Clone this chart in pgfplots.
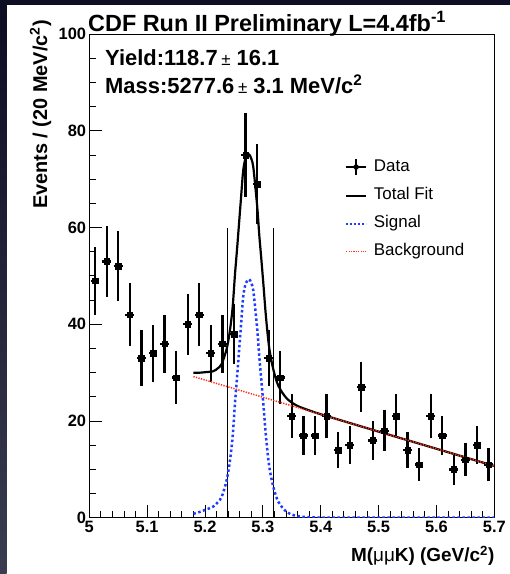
\documentclass[border=0pt]{standalone}
\usepackage{pgfplots}
\pgfplotsset{compat=1.18}
\usepackage{pgfplotstable}
\usepackage{fontspec}
\setmainfont{Liberation Sans}
\definecolor{darktop}{RGB}{12,12,34}
\definecolor{darkbot}{RGB}{58,60,80}
\definecolor{darkstrip}{RGB}{14,14,36}
\definecolor{sigblue}{RGB}{30,60,255}
\definecolor{bkgred}{RGB}{255,50,25}

\pgfplotstableread{
x y ex ey
5.01 49 0.0075 7.00
5.03 53 0.0075 7.28
5.05 52 0.0075 7.21
5.07 42 0.0075 6.48
5.09 33 0.0075 5.74
5.11 34 0.0075 5.83
5.13 36 0.0075 6.00
5.15 29 0.0075 5.39
5.17 40 0.0075 6.32
5.19 42 0.0075 6.48
5.21 34 0.0075 5.83
5.23 36 0.0075 6.00
5.25 38 0.0075 6.16
5.27 75 0.0075 8.66
5.29 69 0.0075 8.31
5.31 33 0.0075 5.74
5.33 29 0.0075 5.39
5.35 21 0.0075 4.58
5.37 17 0.0075 4.12
5.39 17 0.0075 4.12
5.41 21 0.0075 4.58
5.43 14 0.0075 3.74
5.45 15 0.0075 3.87
5.47 27 0.0075 5.20
5.49 16 0.0075 4.00
5.51 18 0.0075 4.24
5.53 21 0.0075 4.58
5.55 14 0.0075 3.74
5.57 11 0.0075 3.32
5.59 21 0.0075 4.58
5.61 17 0.0075 4.12
5.63 10 0.0075 3.16
5.65 12 0.0075 3.46
5.67 15 0.0075 3.87
5.69 11 0.0075 3.32
}\datatable

\pgfplotstableread{
x y
5.180 0.8
5.191 1.2
5.200 1.6
5.2143 2.3
5.222 3.2
5.2288 4.3
5.2375 7.8
5.2432 11.9
5.2478 16.8
5.2518 23.7
5.2558 29.7
5.262 39.5
5.266 45.7
5.2705 48.5
5.2765 49.3
5.2820 47.9
5.2847 45.7
5.2904 38.8
5.2938 33.3
5.2968 29.2
5.3007 23.7
5.3054 16.8
5.311 10.6
5.318 6.4
5.3267 3.3
5.341 1.2
5.3585 0.35
5.380 0.1
5.400 0.03
5.450 0
5.550 0
5.700 0
}\sigtable

\pgfplotstableread{
x y
5.180 30.0
5.191 30.0
5.200 30.1
5.2143 30.3
5.222 30.9
5.2288 31.8
5.2375 34.95
5.2432 38.85
5.2478 43.6
5.2518 50.35
5.2558 56.2
5.262 65.8
5.266 71.8
5.2705 74.5
5.2765 75.1
5.2820 73.5
5.2847 71.2
5.2904 64.1
5.2938 58.45
5.2968 54.25
5.3007 48.6
5.3054 41.5
5.311 35.1
5.318 30.7
5.3267 27.3
5.341 24.7
5.3585 23.2
5.380 22.2
5.400 21.4
5.450 19.6
5.500 17.81
5.600 14.26
5.700 10.70
}\tottable

\begin{document}
\begin{tikzpicture}
\path[use as bounding box] (0bp,0bp) rectangle (510bp,574bp);
\fill[white] (0bp,0bp) rectangle (510bp,574bp);
\shade[top color=darktop, bottom color=darkbot] (0bp,0bp) rectangle (6.5bp,574bp);
\fill[darkstrip] (0bp,569bp) rectangle (510bp,574bp);
\begin{axis}[
  at={(89.3bp,56.3bp)}, anchor=south west, scale only axis,
  width=405bp, height=483.4bp,
  xmin=5, xmax=5.7, ymin=0, ymax=100,
  xtick={5,5.1,5.2,5.3,5.4,5.5,5.6,5.7},
  xticklabels={5,5.1,5.2,5.3,5.4,5.5,5.6,5.7},
  ytick={0,20,40,60,80,100},
  yticklabels={0,20,40,60,80,100},
  minor x tick num=4, minor y tick num=3,
  tick align=inside, xtick pos=left, ytick pos=left,
  major tick length=13bp, minor tick length=6.5bp,
  tick style={black, line width=1bp},
  axis line style={line width=1.3bp},
  tick label style={font=\bfseries\fontsize{16.5}{16.5}\selectfont},
  /pgf/number format/assume math mode=true,
  xticklabel style={inner sep=3bp},
  yticklabel style={inner sep=3bp},
  legend cell align=left,
  legend style={at={(0.6314,0.744)}, anchor=north west, draw=none, fill=none,
    inner sep=0pt, outer sep=0pt, row sep=11.8bp, column sep=6.7bp,
    font=\fontsize{17}{17}\selectfont,
    nodes={inner sep=0pt, text height=12bp, text depth=4bp}},
]
\addplot[black, line width=1bp, forget plot] coordinates {(5.2385,0) (5.2385,60)};
\addplot[black, line width=1bp, forget plot] coordinates {(5.319,0) (5.319,60)};
\addplot[only marks, mark=square*, mark size=2.8bp, black, forget plot,
  error bars/.cd, x dir=both, x explicit, y dir=both, y explicit, error mark=none,
  error bar style={line width=2.3bp}]
  table[x=x, y=y, x error=ex, y error=ey] {\datatable};
\addplot[black, line width=2.2bp, smooth, forget plot] table[x=x,y=y] {\tottable};
\addplot[sigblue, line width=2.5bp, dash pattern=on 2.5bp off 2.5bp, smooth, forget plot] table[x=x,y=y] {\sigtable};
\addplot[bkgred, line width=1.5bp, dash pattern=on 1.3bp off 1.3bp, forget plot] coordinates {(5.18,29.2) (5.7,10.7)};

\addlegendimage{legend image code/.code={
  \draw[black, line width=2bp] (0bp,0bp) -- (20bp,0bp);
  \draw[black, line width=2bp] (10bp,-8bp) -- (10bp,8bp);
  \fill[black] (10bp,0bp) circle (2.5bp);}}
\addlegendentry{Data}
\addlegendimage{legend image code/.code={
  \draw[black, line width=2.2bp] (0bp,0bp) -- (20bp,0bp);}}
\addlegendentry{Total Fit}
\addlegendimage{legend image code/.code={
  \draw[sigblue, line width=2bp, dash pattern=on 2bp off 2bp] (0bp,0bp) -- (20bp,0bp);}}
\addlegendentry{Signal}
\addlegendimage{legend image code/.code={
  \draw[bkgred, line width=1.3bp, dash pattern=on 1.2bp off 1.2bp] (0bp,0bp) -- (20bp,0bp);}}
\addlegendentry{Background}
\end{axis}
\node[anchor=base west, font=\bfseries\fontsize{23.5}{23.5}\selectfont, inner sep=0pt] at (88bp,542.3bp) {CDF Run II Preliminary L=4.4fb\textsuperscript{-1}};
\node[rotate=90, anchor=base east, font=\bfseries\fontsize{20}{20}\selectfont, inner sep=0pt] at (47bp,554bp) {Events / (20 MeV/c\textsuperscript{2})};
\node[anchor=base east, font=\bfseries\fontsize{19}{19}\selectfont, inner sep=0pt] at (494.5bp,12.3bp) {M({\mdseries μμ}K) (GeV/c\textsuperscript{2})};
\node[anchor=base west, font=\bfseries\fontsize{22}{22}\selectfont, inner sep=0pt] at (105bp,508.3bp) {Yield:118.7\,{\mdseries\fontsize{17}{17}\selectfont ±}\ 16.1};
\node[anchor=base west, font=\bfseries\fontsize{22}{22}\selectfont, inner sep=0pt] at (105bp,480.7bp) {Mass:5277.6\,{\mdseries\fontsize{17}{17}\selectfont ±}\ 3.1 MeV/c\textsuperscript{2}};
\end{tikzpicture}
\end{document}
